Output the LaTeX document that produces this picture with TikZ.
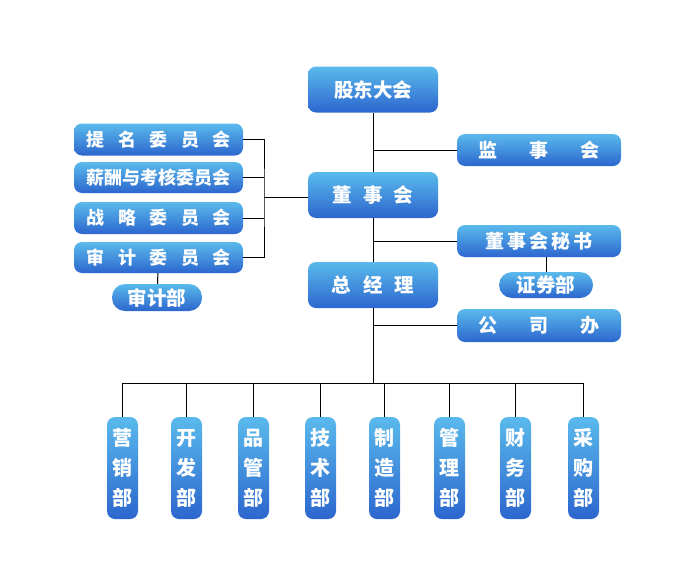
\documentclass[tikz,border=0pt]{standalone}
\usepackage{fontspec}
\setmainfont{Noto Sans CJK SC}
\usepackage{tikz}

\definecolor{boxtop}{RGB}{90,186,236}
\definecolor{boxbot}{RGB}{44,102,206}
\newcommand{\gp}[1]{\hspace{#1pt}}

\begin{document}
\begin{tikzpicture}[x=1pt, y=-1pt,
				unit/.style={rounded corners=8pt, top color=boxtop, bottom color=boxbot, text=white, font=\bfseries\fontsize{18}{18}\selectfont, inner sep=0pt},
				big/.style={unit, minimum width=130pt, minimum height=46pt, font=\bfseries\fontsize{19.5}{19.5}\selectfont},
				side/.style={unit, minimum width=164pt, minimum height=32pt, font=\bfseries\fontsize{19}{19}\selectfont},
				cmte/.style={unit, minimum width=169pt, minimum height=32pt},
				pill/.style={unit, rounded corners=13pt, minimum height=26pt, font=\bfseries\fontsize{19.5}{19.5}\selectfont},
				dept/.style={unit, minimum width=31pt, minimum height=102pt, align=center, font=\bfseries\fontsize{20}{30}\selectfont},
				edge/.style={line width=1pt}
				]
				
				\useasboundingbox (0,0) rectangle (700,586);
				
				% main chain
				\node[big] (gudong) at (373, 89.5) {股东大会};
				\node[big] (dongshi) at (373, 195) {董\gp{11}事\gp{11}会};
				\node[big] (zongjl) at (373, 285) {总\gp{12}经\gp{12}理};
				
				\node[side] (jianshi) at (539, 150) {监\gp{32}事\gp{32}会};
				\node[side] (mishu) at (539, 241) {董\gp{3}事\gp{3}会\gp{3}秘\gp{3}书};
				\node[pill, minimum width=94pt] (zhengq) at (546, 285) {证券部};
				\node[side, minimum height=33pt] (gongsi) at (539, 325.5) {公\gp{32}司\gp{32}办};
				
				% committees
				\node[cmte] (timing) at (158.5, 139.5) {提\gp{13.5}名\gp{13.5}委\gp{13.5}员\gp{13.5}会};
				\node[cmte, minimum height=31pt] (xinchou) at (158.5, 177.5) {薪酬与考核委员会};
				\node[cmte] (zhanlue) at (158.5, 218) {战\gp{13.5}略\gp{13.5}委\gp{13.5}员\gp{13.5}会};
				\node[cmte, minimum height=31pt] (shenji) at (158.5, 257.5) {审\gp{13.5}计\gp{13.5}委\gp{13.5}员\gp{13.5}会};
				\node[pill, minimum width=90pt, minimum height=27pt] (shenjibu) at (157, 297.5) {审计部};
				
				% departments
				\node[dept] (d1) at (122.5, 468) {营\\销\\部};
				\node[dept] (d2) at (186.5, 468) {开\\发\\部};
				\node[dept] (d3) at (253.5, 468) {品\\管\\部};
				\node[dept] (d4) at (320.5, 468) {技\\术\\部};
				\node[dept] (d5) at (384.5, 468) {制\\造\\部};
				\node[dept] (d6) at (449.5, 468) {管\\理\\部};
				\node[dept] (d7) at (515.5, 468) {财\\务\\部};
				\node[dept] (d8) at (583.5, 468) {采\\购\\部};
				
				\coordinate (brk) at (264, 197);
				\coordinate (bus) at (373, 383);
				
				\draw[edge] (gudong) -- (dongshi);
				\draw[edge] (dongshi) -- (zongjl);
				\draw[edge] (zongjl) -- (bus);
				\draw[edge] (jianshi.west) -- (jianshi.west -| gudong.south);
				\draw[edge] (mishu.west) -- (mishu.west -| dongshi.south);
				\draw[edge] (gongsi.west) -- (gongsi.west -| zongjl.south);
				\draw[edge] (zhengq.north) -- (zhengq.north |- mishu.south);
				
				\draw[edge] (timing.east) -| (brk) |- (shenji.east);
				\draw[edge] (xinchou.east) -- (xinchou.east -| brk);
				\draw[edge] (zhanlue.east) -- (zhanlue.east -| brk);
				\draw[edge] (brk) -- (brk -| dongshi.west);
				\draw[edge] (shenji) -- (shenjibu);
				
				\foreach \d in {d1,d2,d3,d4,d5,d6,d7,d8}
					\draw[edge] (bus) -| (\d.north);
				
			\end{tikzpicture}
\end{document}
